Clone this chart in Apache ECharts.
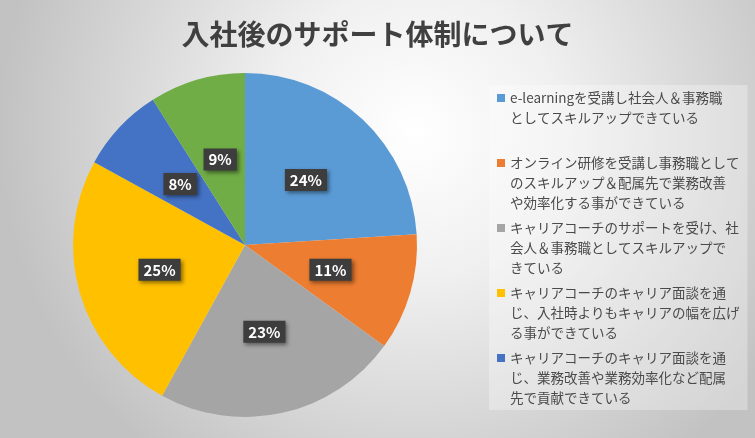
<!DOCTYPE html>
<html>
<head>
<meta charset="utf-8">
<script src="https://cdn.jsdelivr.net/npm/echarts@6/dist/echarts.min.js"></script>
<style>
  html, body { margin: 0; padding: 0; background: #fff; }
  #chart { width: 755px; height: 438px; }
</style>
</head>
<body>
<div id="chart"></div>
<script>
// 回答項目（凡例の改行は元の図に合わせる）
const categories = [
    'e-learningを受講し社会人＆事務職\nとしてスキルアップできている\n',
    'オンライン研修を受講し事務職として\nのスキルアップ＆配属先で業務改善\nや効率化する事ができている',
    'キャリアコーチのサポートを受け、社\n会人＆事務職としてスキルアップで\nきている',
    'キャリアコーチのキャリア面談を通\nじ、入社時よりもキャリアの幅を広げ\nる事ができている',
    'キャリアコーチのキャリア面談を通\nじ、業務改善や業務効率化など配属\n先で貢献できている',
    'その他'
];
const percents = [24, 11, 23, 25, 8, 9];
const colors = ['#5b9bd5', '#ed7d31', '#a5a5a5', '#ffc000', '#4472c4', '#70ad47'];
const legendItems = categories.slice(0, 5); // 6項目目は枠外で見えない

const FONT = '"Noto Sans CJK JP", "Noto Sans", sans-serif';

// 四角マーカーを1行目の高さに置くためのアイコン
const legendIcon = 'path://M0,6h8v8h-8z M0,0h0.01v0.01h-0.01z M0,60h0.01v0.01h-0.01z';

const chart = echarts.init(document.getElementById('chart'));
chart.setOption({
    backgroundColor: {
        type: 'radial',
        x: 0.55,
        y: 0.3,
        r: 0.95,
        colorStops: [
            { offset: 0, color: '#ffffff' },
            { offset: 0.35, color: '#f0f0f0' },
            { offset: 1, color: '#c2c2c2' }
        ]
    },
    color: colors,
    title: {
        text: '入社後のサポート体制について',
        left: 'center',
        top: 15,
        textStyle: {
            fontFamily: FONT,
            fontSize: 28,
            fontWeight: 'bold',
            color: '#404040'
        }
    },
    legend: {
        orient: 'vertical',
        left: 489,
        top: 85,
        padding: [3, 8, 2, 8],
        itemGap: 5,
        itemWidth: 8,
        itemHeight: 60,
        icon: legendIcon,
        backgroundColor: 'rgba(255,255,255,0.3)',
        data: legendItems,
        selectedMode: false,
        textStyle: {
            fontFamily: FONT,
            fontSize: 13.5,
            lineHeight: 20,
            color: '#4a4a4a'
        }
    },
    series: [{
        type: 'pie',
        center: [245, 245],
        radius: 172,
        startAngle: 90,
        clockwise: true,
        avoidLabelOverlap: false,
        itemStyle: { borderWidth: 0 },
        emphasis: { disabled: true },
        label: {
            position: 'inside',
            formatter: p => p.value + '%',
            fontFamily: FONT,
            fontSize: 15,
            fontWeight: 'bold',
            color: '#ffffff',
            backgroundColor: '#3d3d3d',
            padding: [4, 5, 3, 5],
            shadowBlur: 4,
            shadowColor: 'rgba(0,0,0,0.45)',
            shadowOffsetX: 2,
            shadowOffsetY: 2
        },
        labelLine: { show: false },
        data: categories.map((name, i) => ({ name, value: percents[i] }))
    }]
});
</script>
</body>
</html>
